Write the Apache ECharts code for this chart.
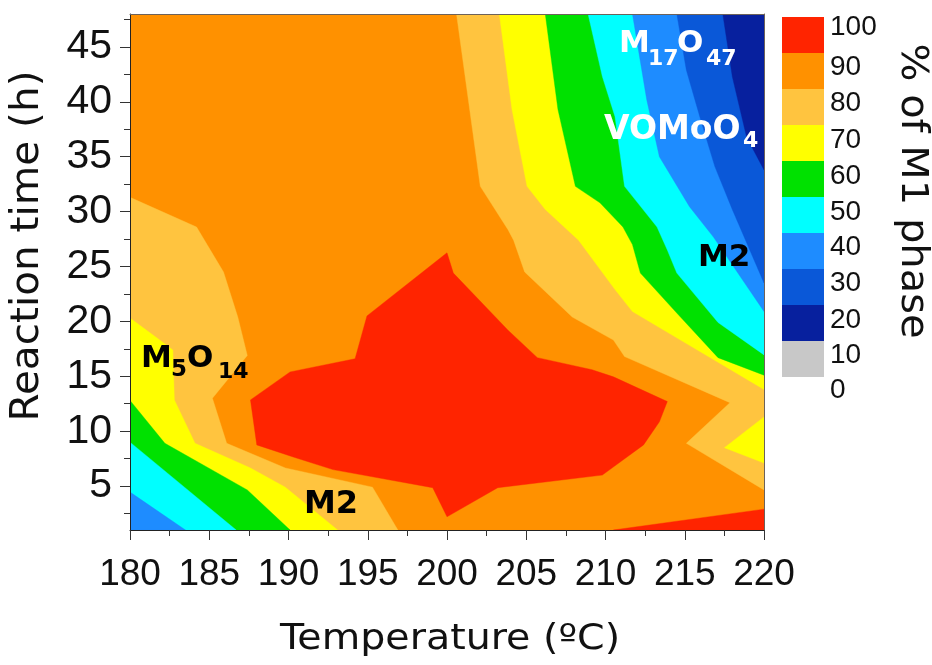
<!DOCTYPE html>
<html><head><meta charset="utf-8">
<script src="https://cdn.jsdelivr.net/npm/echarts@6/dist/echarts.min.js"></script>
<style>html,body{margin:0;padding:0;background:#fff}#c{width:932px;height:665px}</style>
</head><body><div id="c"></div>
<script>
// ---- axes / ticks ----
const xTicks = [180, 185, 190, 195, 200, 205, 210, 215, 220];
const yTicks = [5, 10, 15, 20, 25, 30, 35, 40, 45];
const yMinorTicks = [2.5, 7.5, 12.5, 17.5, 22.5, 27.5, 32.5, 37.5, 42.5, 47.5];
// ---- colour bar ----
const legendLabels = ['100', '90', '80', '70', '60', '50', '40', '30', '20', '10', '0'];
const legendColors = ['#FF2400', '#FF9100', '#FFC43F', '#FFFF00', '#00E100', '#00FFFF', '#1E8CFF', '#0A58D8', '#07209E', '#C8C8C8'];
// ---- contour regions, [temperature (C), time (h)] ----
const band80to90 = [[180, 1], [220, 1], [220, 48], [180, 48]];
const leftBelow80 = [[180, 31.3], [184.2, 28.6], [185.9, 24.5], [186.8, 20.4], [187.4, 16.9], [185.2, 13.0], [186.1, 8.9], [189.8, 6.65], [195.3, 4.9], [196.9, 1], [180, 1]];
const leftBelow70 = [[180, 20.3], [181.6, 18.6], [182.7, 17.4], [182.8, 12.85], [184.1, 8.9], [187.6, 6.65], [189.8, 4.9], [193.1, 1], [180, 1]];
const leftBelow60 = [[180, 12.8], [182.2, 8.9], [187.4, 4.65], [190.1, 1], [180, 1]];
const leftBelow50 = [[180, 9.0], [186.7, 1], [180, 1]];
const leftBelow40 = [[180, 4.45], [183.5, 1], [180, 1]];
const rightBelow80 = [[200.6, 48], [202.1, 32.3], [203.85, 28.35], [204.2, 27.4], [204.9, 24.5], [207.9, 20.4], [210.5, 18.3], [211.2, 16.8], [217.85, 12.6], [215.1, 8.9], [220, 4.65], [220, 48]];
const rightBelow70 = [[203.3, 48], [204.1, 39.3], [205.05, 32.3], [206.2, 30.2], [208.3, 27.4], [210.6, 22.9], [211.7, 20.9], [220, 13.8], [220, 48]];
const pocketBelow70 = [[220, 11.3], [217.5, 8.5], [220, 7.1]];
const rightBelow60 = [[206.2, 48], [207.0, 39.3], [208.1, 32.3], [209.65, 30.8], [211.1, 28.6], [211.7, 27.0], [212.2, 24.4], [214.6, 20.6], [217.1, 16.7], [220, 15.1], [220, 48]];
const rightBelow50 = [[208.9, 48], [209.8, 42.3], [210.6, 38.65], [211.2, 32.3], [213.25, 28.6], [213.9, 26.5], [214.5, 24.4], [217.1, 19.9], [220, 16.95], [220, 48]];
const rightBelow40 = [[211.7, 48], [212.6, 40.2], [213.4, 35.0], [215.3, 30.45], [216.8, 27.7], [220, 20.9], [220, 48]];
const rightBelow30 = [[214.5, 48], [215.1, 42.9], [216.0, 38.4], [216.9, 34.1], [218.0, 30.2], [220, 23.5], [220, 48]];
const rightBelow20 = [[217.4, 48], [218.0, 42.3], [218.9, 36.8], [220, 33.8], [220, 48]];
const above90Centre = [[187.6, 12.85], [190.1, 15.4], [194.2, 16.6], [194.95, 20.5], [200.0, 26.25], [200.4, 24.4], [203.85, 19.2], [205.7, 16.7], [209.15, 15.6], [210.5, 14.95], [213.9, 12.7], [213.4, 10.85], [212.4, 8.75], [209.8, 6.0], [203.2, 4.85], [200.0, 2.2], [199.1, 4.85], [192.8, 6.5], [190.3, 7.65], [188.0, 8.75]];
const above90Corner = [[210.5, 1], [220, 2.9], [220, 1]];

const C = {c90: legendColors[0], c80: legendColors[1], c70: legendColors[2], c60: legendColors[3], c50: legendColors[4], c40: legendColors[5], c30: legendColors[6], c20: legendColors[7], c10: legendColors[8]};
const regions = [
  {pts: band80to90, color: C.c80},
  {pts: leftBelow80, color: C.c70},
  {pts: leftBelow70, color: C.c60},
  {pts: leftBelow60, color: C.c50},
  {pts: leftBelow50, color: C.c40},
  {pts: leftBelow40, color: C.c30},
  {pts: rightBelow80, color: C.c70},
  {pts: rightBelow70, color: C.c60},
  {pts: pocketBelow70, color: C.c60},
  {pts: rightBelow60, color: C.c50},
  {pts: rightBelow50, color: C.c40},
  {pts: rightBelow40, color: C.c30},
  {pts: rightBelow30, color: C.c20},
  {pts: rightBelow20, color: C.c10},
  {pts: above90Centre, color: C.c90},
  {pts: above90Corner, color: C.c90}
];

const chart = echarts.init(document.getElementById('c'), null, {renderer: 'canvas'});
const TXT = '#111';
const legendLabelY = [27, 67, 103, 140, 176, 212, 247, 283, 320, 355, 390];
const graphics = [];
legendColors.forEach((c, i) => graphics.push({type: 'rect', shape: {x: 782, y: 17 + 36 * i, width: 42, height: 36}, style: {fill: c}}));
legendLabels.forEach((t, i) => graphics.push({type: 'text', x: 830, y: legendLabelY[i], style: {text: t, fontFamily: 'Liberation Sans', fontSize: 28, fill: TXT, align: 'left', verticalAlign: 'middle'}}));
graphics.push({type: 'text', x: 912, y: 191, rotation: -Math.PI / 2, scaleX: 1.08, style: {text: '% of M1 phase', fontFamily: 'DejaVu Sans', fontSize: 37, fill: TXT, align: 'center', verticalAlign: 'middle'}});
graphics.push({type: 'text', x: 28, y: 246, rotation: Math.PI / 2, scaleX: 1.04, style: {text: 'Reaction time (h)', fontFamily: 'DejaVu Sans', fontSize: 39, fill: TXT, align: 'center', verticalAlign: 'middle'}});
graphics.push({type: 'text', x: 450, y: 640, scaleX: 1.13, style: {text: 'Temperature (ºC)', fontFamily: 'DejaVu Sans', fontSize: 35, fill: TXT, align: 'center', verticalAlign: 'middle'}});
function ann(parts, fill) {
  parts.forEach(p => graphics.push({type: 'text', x: p[1], y: p[2], z: 100, style: {text: p[0], fill: fill, align: 'left', verticalAlign: 'middle', fontFamily: 'DejaVu Sans', fontWeight: 'bold', fontSize: p[3]}}));
}
ann([['M', 141, 358.5, 31], ['5', 171, 370, 23], ['O', 187, 358.5, 31], ['14', 218, 372, 22]], '#000');
ann([['M2', 304, 505, 32]], '#000');
ann([['M2', 698, 257.5, 31]], '#000');
ann([['M', 619, 44, 31], ['17', 648, 59, 22], ['O', 677, 44, 31], ['47', 706, 59, 22]], '#fff');
ann([['VOMoO', 604, 130, 33], ['4', 743, 141, 22]], '#fff');

chart.setOption({
  animation: false,
  backgroundColor: '#fff',
  grid: {left: 130, right: 168, top: 14, bottom: 135, show: false},
  xAxis: [{
    type: 'value', min: 180, max: 220, interval: 5, position: 'bottom', z: 10,
    axisLine: {show: true, onZero: false, lineStyle: {color: '#222', width: 1}},
    axisTick: {show: true, length: 10, lineStyle: {color: '#333', width: 1}},
    minorTick: {show: true, splitNumber: 2, length: 6, lineStyle: {color: '#333', width: 1}},
    splitLine: {show: false}, minorSplitLine: {show: false},
    axisLabel: {fontFamily: 'Liberation Sans', fontSize: 37, color: TXT, margin: 26}
  }, {
    type: 'value', min: 180, max: 220, position: 'top', z: 10,
    axisLine: {show: true, onZero: false, lineStyle: {color: '#6d625a', width: 1}},
    axisTick: {show: false}, axisLabel: {show: false}, splitLine: {show: false}
  }],
  yAxis: [{
    type: 'value', min: 1, max: 48, position: 'left', z: 10,
    axisLine: {show: true, onZero: false, lineStyle: {color: '#222', width: 1}},
    axisTick: {show: true, length: 10, customValues: yTicks, lineStyle: {color: '#333', width: 1}},
    axisLabel: {fontFamily: 'Liberation Sans', fontSize: 41, color: TXT, margin: 18, customValues: yTicks},
    splitLine: {show: false}
  }, {
    type: 'value', min: 1, max: 48, position: 'left', z: 10,
    axisLine: {show: false},
    axisTick: {show: true, length: 6, customValues: yMinorTicks, lineStyle: {color: '#333', width: 1}},
    axisLabel: {show: false}, splitLine: {show: false}
  }, {
    type: 'value', min: 1, max: 48, position: 'right', z: 10,
    axisLine: {show: true, onZero: false, lineStyle: {color: '#6d625a', width: 1}},
    axisTick: {show: false}, axisLabel: {show: false}, splitLine: {show: false}
  }],
  series: [{
    type: 'custom', coordinateSystem: 'cartesian2d', xAxisIndex: 0, yAxisIndex: 0, clip: true,
    data: regions.map(r => r.pts[0]),
    renderItem: function (params, api) {
      const r = regions[params.dataIndex];
      return {type: 'polygon', shape: {points: r.pts.map(p => api.coord(p))}, style: {fill: r.color, stroke: r.color, lineWidth: 0.4}};
    }
  }],
  graphic: graphics
});
</script></body></html>
